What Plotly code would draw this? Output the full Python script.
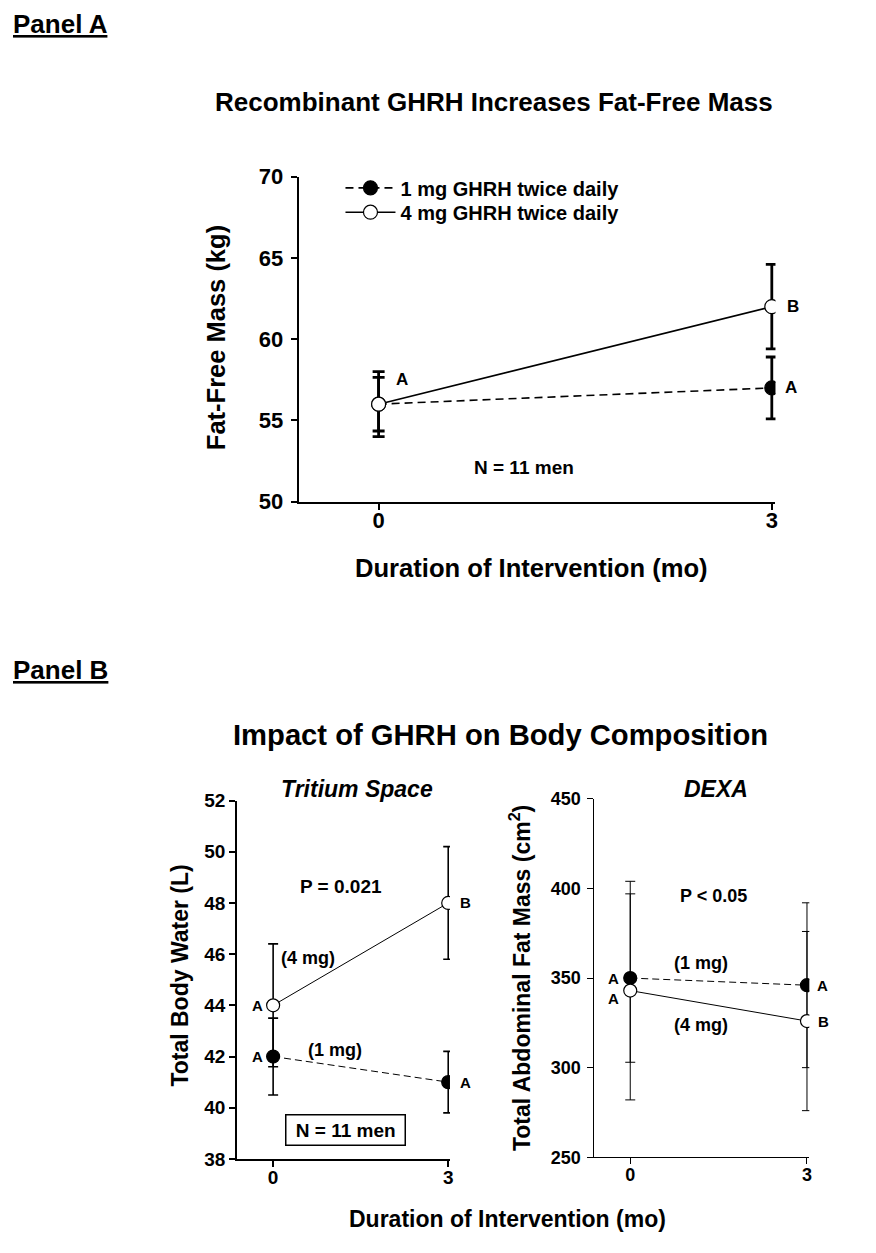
import plotly.graph_objects as go

# ---------------- data ----------------
months = [0, 3]
month_ticks = [0, 3]

# Panel A: fat-free mass (kg)
ffm_1mg = [56, 57]
ffm_1mg_se = [2.0, 1.9]
ffm_4mg = [56, 62]
ffm_4mg_se = [1.65, 2.6]
ffm_ticks = [50, 55, 60, 65, 70]
ffm_letters_1mg = ["", "A"]
ffm_letters_4mg = ["A", "B"]

# Panel B left: total body water (L)
tbw_1mg = [42, 41]
tbw_1mg_se = [1.5, 1.2]
tbw_4mg = [44, 48]
tbw_4mg_se = [2.4, 2.2]
tbw_ticks = [38, 40, 42, 44, 46, 48, 50, 52]
tbw_letters_1mg = ["A", "A"]
tbw_letters_4mg = ["A", "B"]

# Panel B right: total abdominal fat mass (cm2)
fat_1mg = [350, 346]
fat_1mg_se = [47, 46]
fat_4mg = [343, 326]
fat_4mg_se = [61, 50]
fat_ticks = [250, 300, 350, 400, 450]
fat_letters_1mg = ["A", "A"]
fat_letters_4mg = ["A", "B"]

W, H = 876, 1253
FONT = "Arial, Liberation Sans, sans-serif"

# page-placement compensation (figure offset / scale seen in the rendered page)
OX, OY, SY = 7.0, 19.0, 0.9827


def X(x):
    return x - OX


def Y(y):
    return (y - OY) / SY


def px(x, y):
    return X(x) / W, 1 - Y(y) / H


def dom_x(a, b):
    return [X(a) / W, X(b) / W]


def dom_y(top, bottom):
    return [1 - Y(bottom) / H, 1 - Y(top) / H]


fig = go.Figure()


def add_pair(xa, ya, y1, e1, y4, e4, lw, ew, ecap, msize, dash, legend):
    fig.add_trace(go.Scatter(
        x=months, y=y1, xaxis=xa, yaxis=ya, mode="lines+markers",
        name="1 mg GHRH twice daily", showlegend=legend, legend="legend",
        line=dict(color="black", width=lw, dash=dash),
        marker=dict(symbol="circle", size=msize, color="black",
                    line=dict(color="black", width=1.2)),
        error_y=dict(type="data", array=e1, visible=True, color="black",
                     thickness=ew, width=ecap),
    ))
    fig.add_trace(go.Scatter(
        x=months, y=y4, xaxis=xa, yaxis=ya, mode="lines+markers",
        name="4 mg GHRH twice daily", showlegend=legend, legend="legend2",
        line=dict(color="black", width=lw),
        marker=dict(symbol="circle", size=msize, color="white",
                    line=dict(color="black", width=1.2)),
        error_y=dict(type="data", array=e4, visible=True, color="black",
                     thickness=ew, width=ecap),
    ))


add_pair("x", "y", ffm_1mg, ffm_1mg_se, ffm_4mg, ffm_4mg_se,
         1.6, 2.8, 6, 14, "8px,5px", True)
add_pair("x2", "y2", tbw_1mg, tbw_1mg_se, tbw_4mg, tbw_4mg_se,
         1.0, 1.6, 5, 13, "7px,4px", False)
add_pair("x3", "y3", fat_1mg, fat_1mg_se, fat_4mg, fat_4mg_se,
         1.0, 1.0, 5, 13, "7px,4px", False)


def axis_common(lw, tickfs, standoff):
    return dict(showline=True, linecolor="black", linewidth=lw, showgrid=False,
                zeroline=False, ticks="outside", ticklen=6, tickwidth=lw,
                tickcolor="black", mirror=False,
                tickfont=dict(family=FONT, size=tickfs, color="black", weight="bold"),
                ticklabelstandoff=standoff)


def legend_box(ycenter):
    return dict(x=X(341) / W, y=1 - Y(ycenter) / H, xanchor="left", yanchor="middle",
                bgcolor="rgba(0,0,0,0)", borderwidth=0,
                font=dict(family=FONT, size=20, color="black", weight="bold"),
                itemwidth=50, tracegroupgap=0)


fig.update_layout(
    width=W, height=H, margin=dict(l=0, r=0, t=0, b=0),
    paper_bgcolor="white", plot_bgcolor="white",
    font=dict(family=FONT, color="black"),
    showlegend=True,
    legend=legend_box(187.3),
    legend2=legend_box(211.7),
    xaxis=dict(domain=dom_x(299, 778), range=[-0.61, 3.028],
               tickvals=month_ticks, anchor="y", **axis_common(2, 22, -8)),
    yaxis=dict(domain=dom_y(176, 502), range=[50, 70],
               tickvals=ffm_ticks, anchor="x", **axis_common(2, 22, 3)),
    xaxis2=dict(domain=dom_x(237, 451), range=[-0.62, 3.03],
                tickvals=month_ticks, anchor="y2", **axis_common(1.5, 19, -5)),
    yaxis2=dict(domain=dom_y(801.7, 1161), range=[38, 52],
                tickvals=tbw_ticks, anchor="x2", **axis_common(1.5, 19, 0)),
    xaxis3=dict(domain=dom_x(596, 812), range=[-0.61, 3.04],
                tickvals=month_ticks, anchor="y3", **axis_common(1, 18, -5)),
    yaxis3=dict(domain=dom_y(800, 1159.3), range=[250, 450],
                tickvals=fat_ticks, anchor="x3", **axis_common(1, 18, 3)),
)

ann = []


def text(x, y, t, size, italic=False, angle=0, yanchor="middle", **kw):
    xx, yy = px(x, y)
    ann.append(dict(x=xx, y=yy, xref="paper", yref="paper", text=t, showarrow=False,
                    xanchor="center", yanchor=yanchor, textangle=angle,
                    font=dict(family=FONT, size=size, color="black", weight="bold",
                              style="italic" if italic else "normal"), **kw))


def letters(xa, ya, ys, labs, dxs, dys, size):
    for xv, yv, lab, dx, dy in zip(months, ys, labs, dxs, dys):
        if lab:
            ann.append(dict(x=xv, y=yv, xref=xa, yref=ya, text=lab, showarrow=False,
                            xshift=dx, yshift=dy / SY, xanchor="center", yanchor="middle",
                            font=dict(family=FONT, size=size, color="black", weight="bold")))


# panel headers
text(60, 23, "<u>Panel A</u>", 26)
text(60, 671, "<u>Panel B</u>", 26)

# Panel A texts
text(495, 101, "Recombinant GHRH Increases Fat-Free Mass", 26)
text(216, 338, "Fat-Free Mass (kg)", 25.5, angle=-90)
text(533, 568, "Duration of Intervention (mo)", 25.6)
text(525, 468, "N = 11 men", 19)
letters("x", "y", ffm_1mg, ffm_letters_1mg, [23, 19], [0, 0], 17)
letters("x", "y", ffm_4mg, ffm_letters_4mg, [23, 21], [24, 0], 17)

# Panel B texts
text(502, 736, "Impact of GHRH on Body Composition", 29.2)
text(358, 790, "Tritium Space", 23, italic=True)
text(718, 790, "DEXA", 23, italic=True)
text(180, 977, "Total Body Water (L)", 23, angle=-90)
text(522, 980, "Total Abdominal Fat Mass (cm<sup>2</sup>)", 23, angle=-90)
text(509, 1221, "Duration of Intervention (mo)", 23)

text(342, 888, "P = 0.021", 19)
text(308, 960, "(4 mg)", 18)
text(335, 1052, "(1 mg)", 18)
text(346.5, 1132, "\u00a0N = 11 men\u00a0", 19, bordercolor="black", borderwidth=1.5, borderpad=4)
letters("x2", "y2", tbw_1mg, tbw_letters_1mg, [-16, 17], [0, 0], 15)
letters("x2", "y2", tbw_4mg, tbw_letters_4mg, [-16, 17], [0, 0], 15)

text(716, 897, "P < 0.05", 18)
text(703, 965, "(1 mg)", 18)
text(703, 1027, "(4 mg)", 18)
letters("x3", "y3", fat_1mg, fat_letters_1mg, [-17, 16], [0, 0], 15)
letters("x3", "y3", fat_4mg, fat_letters_4mg, [-17, 17], [-8, 0], 15)

fig.update_layout(annotations=ann)
fig.write_html("out.html")
